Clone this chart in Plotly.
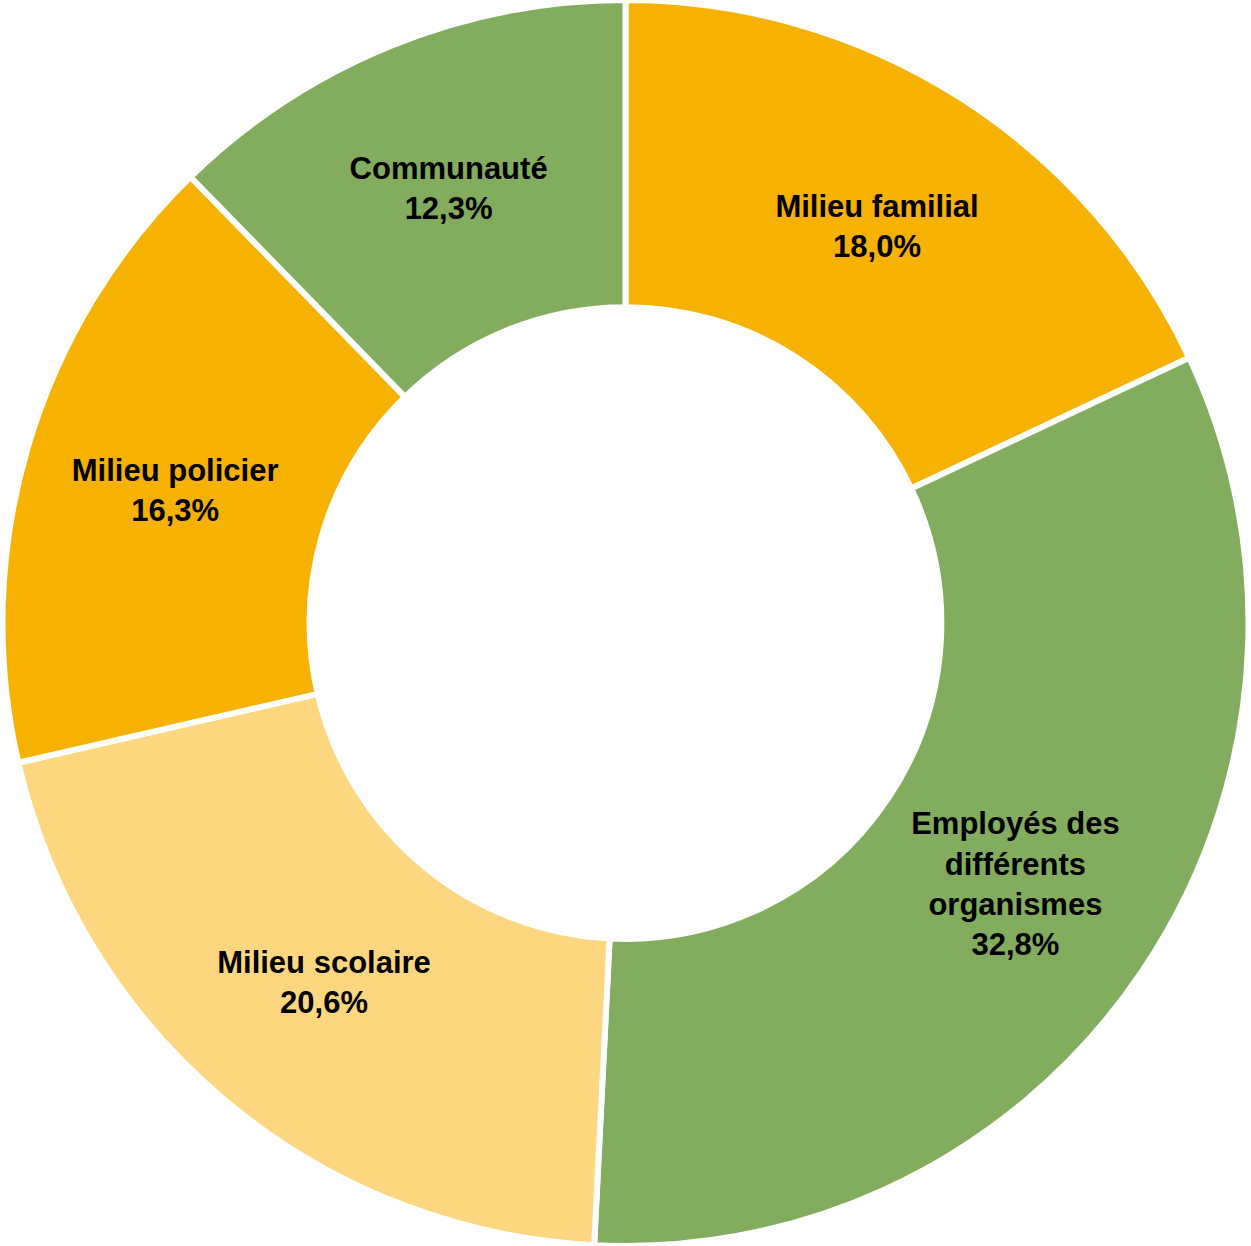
import plotly.graph_objects as go

labels = ["Milieu familial", "Employés des différents organismes", "Milieu scolaire",
          "Milieu policier", "Communauté"]
text_labels = ["Milieu familial", "Employés des<br>différents<br>organismes", "Milieu scolaire",
               "Milieu policier", "Communauté"]
values = [18.0, 32.8, 20.6, 16.3, 12.3]
colors = ["#F7B100", "#82AC5E", "#FCD77F", "#F7B100", "#82AC5E"]

fig = go.Figure(go.Pie(
    labels=labels,
    values=values,
    text=text_labels,
    texttemplate="<b>%{text}<br>%{value:.1f}%</b>",
    textposition="inside",
    insidetextorientation="horizontal",
    sort=False,
    direction="clockwise",
    rotation=0,
    hole=0.507,
    marker=dict(colors=colors, line=dict(color="white", width=6)),
    textfont=dict(family="Liberation Sans, Arial, sans-serif", size=31, color="black"),
    showlegend=False,
))
fig.update_layout(
    width=1251, height=1246,
    margin=dict(l=0, r=0, t=0, b=0),
    paper_bgcolor="white",
    separators=", ",
    uniformtext=dict(minsize=31, mode="show"),
)
fig.write_html("out.html", config={"displayModeBar": False},
               post_script="document.body.style.margin='0';document.body.style.overflow='hidden';")
